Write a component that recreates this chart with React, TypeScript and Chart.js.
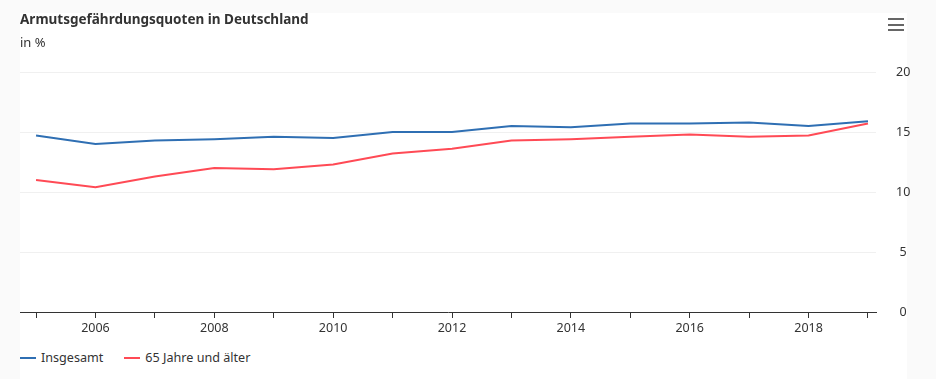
import React, { useEffect, useRef } from "react";
import { Chart, registerables } from "chart.js";

Chart.register(...registerables);

const years = [2005, 2006, 2007, 2008, 2009, 2010, 2011, 2012, 2013, 2014, 2015, 2016, 2017, 2018, 2019];
const insgesamt = [14.7, 14.0, 14.3, 14.4, 14.6, 14.5, 15.0, 15.0, 15.5, 15.4, 15.7, 15.7, 15.8, 15.5, 15.9];
const ab65 = [11.0, 10.4, 11.3, 12.0, 11.9, 12.3, 13.2, 13.6, 14.3, 14.4, 14.6, 14.8, 14.6, 14.7, 15.7];
const yTickValues = [0, 5, 10, 15, 20];
const seriesNames = ["Insgesamt", "65 Jahre und älter"];
const titleText = "Armutsgefährdungsquoten in Deutschland";
const subtitleText = "in %";

const BLUE = "#2f6fb3";
const RED = "#ff4a55";
const TEXT = "#333333";
const FONT = "'Noto Sans', 'Open Sans', sans-serif";

export default function App() {
  const ref = useRef<HTMLCanvasElement>(null);

  useEffect(() => {
    const canvas = ref.current;
    if (!canvas) return;
    const chart = new Chart(canvas, {
      type: "line",
      data: {
        datasets: [
          {
            label: seriesNames[0],
            data: years.map((y, i) => ({ x: y, y: insgesamt[i] })),
            borderColor: BLUE,
            backgroundColor: BLUE,
            borderWidth: 2,
            pointRadius: 0,
            tension: 0,
          },
          {
            label: seriesNames[1],
            data: years.map((y, i) => ({ x: y, y: ab65[i] })),
            borderColor: RED,
            backgroundColor: RED,
            borderWidth: 2,
            pointRadius: 0,
            tension: 0,
          },
        ],
      },
      options: {
        responsive: false,
        animation: false,
        devicePixelRatio: 1,
        layout: { padding: { left: 20, top: 72, right: 0, bottom: 0 } },
        plugins: {
          legend: { display: false },
          tooltip: { enabled: false },
        },
        scales: {
          x: {
            type: "linear",
            min: 2004.73,
            max: 2019.135,
            afterBuildTicks: (s: any) => {
              s.ticks = years.map((v) => ({ value: v }));
            },
            afterFit: (s: any) => {
              s.height = 30;
            },
            ticks: {
              autoSkip: false,
              maxRotation: 0,
              padding: 3,
              color: TEXT,
              font: { family: FONT, size: 12.5 },
              callback: (v: any) => (Number(v) % 2 === 0 ? String(v) : ""),
            },
            grid: {
              drawOnChartArea: false,
              drawTicks: true,
              tickLength: 6,
              color: TEXT,
            },
            border: { display: true, color: TEXT, width: 1 },
          },
          y: {
            position: "right",
            min: 0,
            max: 20,
            afterBuildTicks: (s: any) => {
              s.ticks = yTickValues.map((v) => ({ value: v }));
            },
            afterFit: (s: any) => {
              s.width = 60;
            },
            ticks: {
              crossAlign: "center",
              padding: 20,
              color: TEXT,
              font: { family: FONT, size: 12.5 },
            },
            grid: {
              color: (ctx: any) => (ctx.tick && ctx.tick.value === 0 ? "rgba(0,0,0,0)" : "#f0f0f0"),
              drawTicks: false,
              lineWidth: 1,
            },
            border: { display: false },
          },
        },
      },
    } as any);
    return () => chart.destroy();
  }, []);

  const bar = (top: number) => (
    <div style={{ position: "absolute", left: 888, top, width: 16, height: 2, background: "#666" }} />
  );

  return (
    <div style={{ position: "fixed", left: 0, top: 0, width: 936, height: 379, background: "#fafafa", overflow: "hidden" }}>
      <div style={{ position: "absolute", left: 20, top: 13, width: 887, height: 366, background: "#fff" }} />
      <canvas ref={ref} width={936} height={342} style={{ position: "absolute", left: 0, top: 0, width: 936, height: 342, display: "block" }} />
      <div style={{ position: "absolute", left: 20, top: 9, fontFamily: FONT, fontWeight: 700, fontSize: 13.5, color: TEXT, whiteSpace: "nowrap", lineHeight: "20px" }}>
        {titleText}
      </div>
      <div style={{ position: "absolute", left: 20, top: 33, fontFamily: FONT, fontSize: 13, color: TEXT, whiteSpace: "nowrap", lineHeight: "18px" }}>
        {subtitleText}
      </div>
      {bar(18)}
      {bar(24)}
      {bar(29)}
      <div style={{ position: "absolute", left: 20, top: 348, display: "flex", alignItems: "center", fontFamily: FONT, fontSize: 12.6, color: TEXT, whiteSpace: "nowrap", lineHeight: "20px" }}>
        <span style={{ display: "inline-block", width: 16, height: 2, background: BLUE, marginRight: 5 }} />
        <span>{seriesNames[0]}</span>
        <span style={{ display: "inline-block", width: 16, height: 2, background: RED, marginLeft: 21, marginRight: 5 }} />
        <span>{seriesNames[1]}</span>
      </div>
    </div>
  );
}
